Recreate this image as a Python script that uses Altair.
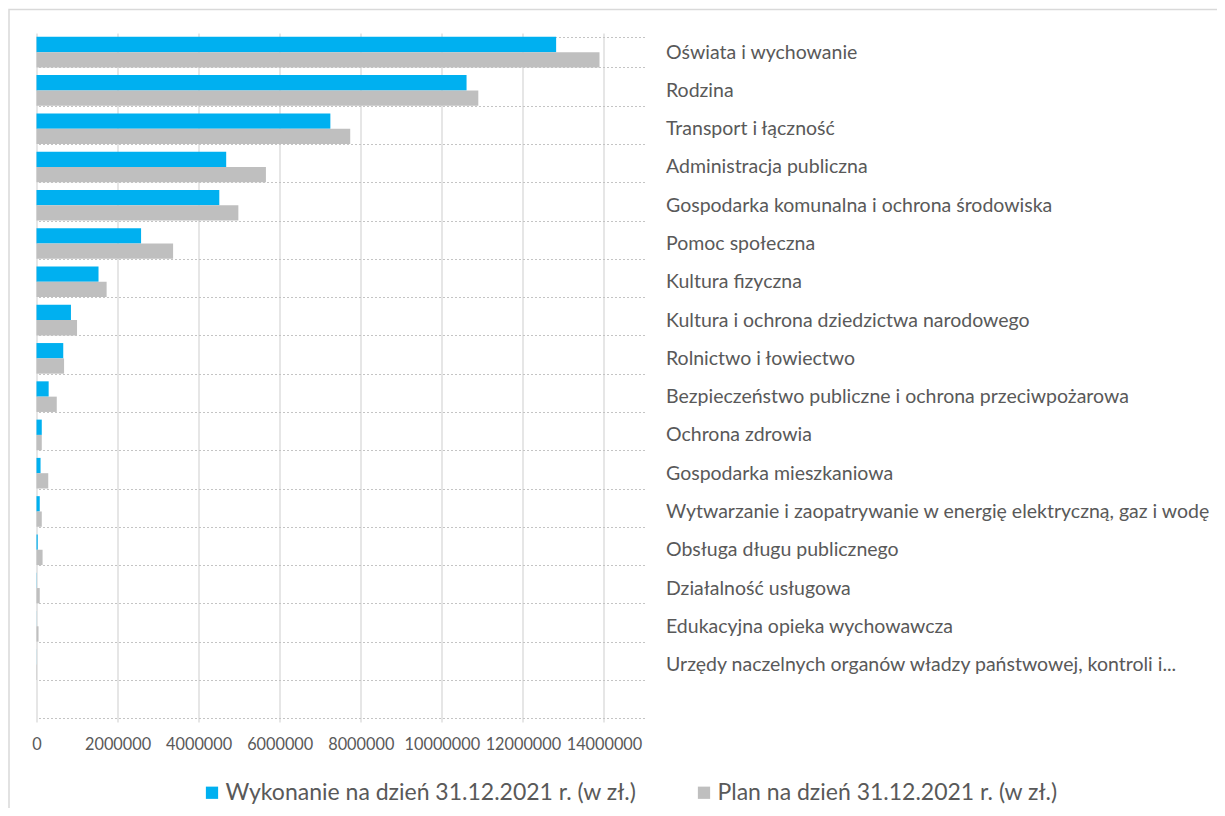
import altair as alt
import pandas as pd

categories = [
    "Oświata i wychowanie",
    "Rodzina",
    "Transport i łączność",
    "Administracja publiczna",
    "Gospodarka komunalna i ochrona środowiska",
    "Pomoc społeczna",
    "Kultura fizyczna",
    "Kultura i ochrona dziedzictwa narodowego",
    "Rolnictwo i łowiectwo",
    "Bezpieczeństwo publiczne i ochrona przeciwpożarowa",
    "Ochrona zdrowia",
    "Gospodarka mieszkaniowa",
    "Wytwarzanie i zaopatrywanie w energię elektryczną, gaz i wodę",
    "Obsługa długu publicznego",
    "Działalność usługowa",
    "Edukacyjna opieka wychowawcza",
    "Urzędy naczelnych organów władzy państwowej, kontroli i...",
]
wykonanie = [12820000, 10610000, 7250000, 4680000, 4510000, 2580000, 1530000,
             850000, 660000, 300000, 130000, 100000, 80000, 30000, 5000, 2000, 2000]
plan = [13890000, 10900000, 7740000, 5660000, 4980000, 3370000, 1730000,
        1000000, 680000, 500000, 130000, 290000, 130000, 150000, 80000, 50000, 10000]
series = ["Wykonanie na dzień 31.12.2021 r. (w zł.)", "Plan na dzień 31.12.2021 r. (w zł.)"]
colors = ["#00B0F0", "#BFBFBF"]
x_ticks = [0, 2000000, 4000000, 6000000, 8000000, 10000000, 12000000, 14000000]

rows = []
for c, w, p in zip(categories, wykonanie, plan):
    rows.append({"kategoria": c, "seria": series[0], "wartosc": w})
    rows.append({"kategoria": c, "seria": series[1], "wartosc": p})
df = pd.DataFrame(rows)

y_domain = categories + [""]
W, H = 608, 689
FONT = "Lato"

bars = alt.Chart(df).mark_bar().encode(
    x=alt.X("wartosc:Q",
            scale=alt.Scale(domain=[0, 15000000], nice=False),
            axis=alt.Axis(values=x_ticks, format="d", title=None, domain=False, ticks=False,
                          labelPadding=14, labelFontSize=16.3, labelColor="#595959",
                          labelFont=FONT, grid=True, gridColor="#d9d9d9", gridWidth=1.3,
                          labelFlush=False, labelOverlap=False)),
    y=alt.Y("kategoria:N",
            scale=alt.Scale(domain=y_domain, paddingInner=0.2, paddingOuter=0.1),
            axis=alt.Axis(orient="right", title=None, domain=False, ticks=False,
                          labelPadding=21, labelFontSize=19.5, labelColor="#595959",
                          labelFont=FONT, labelLimit=0, tickBand="extent", grid=True,
                          gridDash=[2, 2], gridColor="#c4c4c4", gridWidth=1)),
    yOffset=alt.YOffset("seria:N", sort=series),
    color=alt.Color("seria:N", sort=series,
                    scale=alt.Scale(domain=series, range=colors),
                    legend=alt.Legend(title=None, orient="none", direction="horizontal",
                                      legendX=164, legendY=748, symbolType="square",
                                      symbolSize=150, symbolStrokeWidth=0,
                                      labelFontSize=23, labelFont=FONT,
                                      labelColor="#595959", columnPadding=56,
                                      labelOffset=2, labelLimit=0)),
)

frame = alt.Chart(pd.DataFrame({"k": [0]})).mark_rect(
    fill=None, stroke="#d9d9d9", strokeWidth=1.5
).encode(x=alt.value(-27.5), x2=alt.value(W + 700), y=alt.value(-23.5), y2=alt.value(H + 300))

chart = alt.layer(frame, bars).properties(
    width=W, height=H,
    autosize=alt.AutoSizeParams(type="none"),
    padding={"left": 28.5, "top": 25, "right": 572, "bottom": 86},
).configure_view(stroke=None)

chart.save("out.html", embed_options={"renderer": "svg", "actions": False})
